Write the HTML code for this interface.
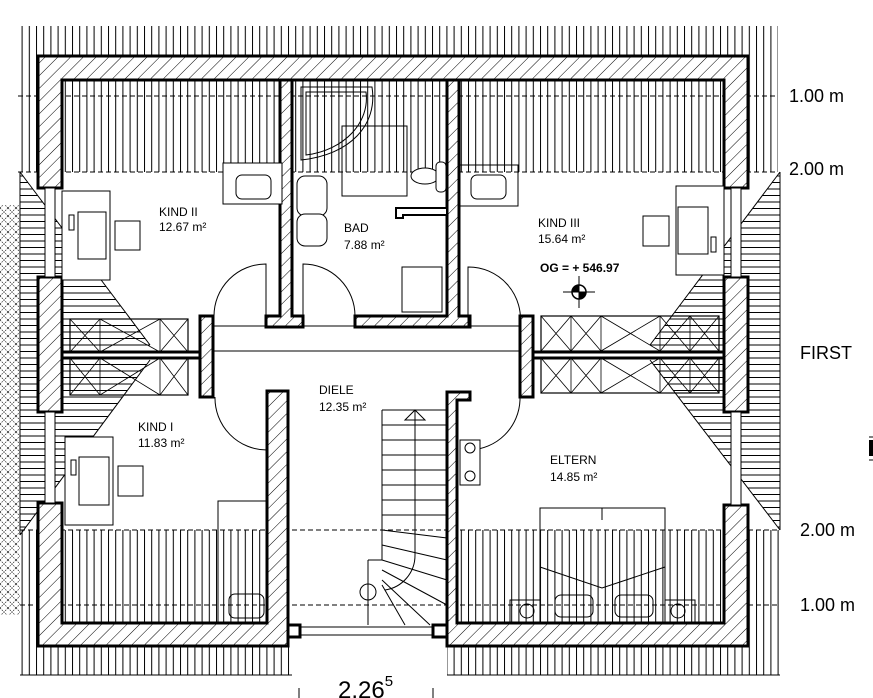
<!DOCTYPE html>
<html><head><meta charset="utf-8"><style>
html,body{margin:0;padding:0;background:#fff}
svg{display:block}
text{font-family:"Liberation Sans",sans-serif;fill:#000}
</style></head><body>
<svg width="873" height="698" viewBox="0 0 873 698" xmlns="http://www.w3.org/2000/svg">
<defs>
<pattern id="vl" width="7.2" height="10" patternUnits="userSpaceOnUse"><line x1="0.5" y1="0" x2="0.5" y2="10" stroke="#000" stroke-width="1"/></pattern>
<pattern id="hl" width="10" height="6.5" patternUnits="userSpaceOnUse"><line x1="0" y1="0.5" x2="10" y2="0.5" stroke="#000" stroke-width="1"/></pattern>
<pattern id="hatch" width="9" height="9" patternUnits="userSpaceOnUse" patternTransform="rotate(45)"><rect width="9" height="9" fill="#fff"/><line x1="0" y1="0" x2="0" y2="9" stroke="#000" stroke-width="1"/></pattern>
<pattern id="xx" width="8" height="8" patternUnits="userSpaceOnUse"><path d="M0,0 L8,8 M8,0 L0,8" stroke="#000" stroke-width="0.6" stroke-dasharray="1.5,1"/></pattern>
</defs>
<rect width="873" height="698" fill="#fff"/>

<!-- roof vertical lines -->
<rect x="18" y="26" width="760" height="146" fill="url(#vl)"/>
<rect x="20" y="530" width="272" height="145" fill="url(#vl)"/>
<rect x="447" y="530" width="333" height="145" fill="url(#vl)"/>
<line x1="20" y1="675" x2="292" y2="675" stroke="#000"/>
<line x1="447" y1="675" x2="780" y2="675" stroke="#000"/>

<!-- side horizontal lines -->
<polygon points="20,172 150,345 150,360 20,535" fill="url(#hl)"/>
<polygon points="780,172 650,345 650,360 780,530" fill="url(#hl)"/>
<line x1="20" y1="172" x2="150" y2="345" stroke="#000"/>
<line x1="20" y1="535" x2="150" y2="360" stroke="#000"/>
<line x1="780" y1="172" x2="650" y2="345" stroke="#000"/>
<line x1="780" y1="530" x2="650" y2="360" stroke="#000"/>
<line x1="20" y1="172" x2="20" y2="535" stroke="#000"/>
<line x1="780" y1="172" x2="780" y2="530" stroke="#000"/>
<rect x="0" y="205" width="20" height="410" fill="url(#xx)"/>

<!-- dashed lines -->
<g stroke="#000" stroke-dasharray="5,3" stroke-width="1">
<line x1="18" y1="96" x2="778" y2="96"/>
<line x1="18" y1="172" x2="778" y2="172"/>
<line x1="20" y1="530" x2="780" y2="530"/>
<line x1="20" y1="605" x2="780" y2="605"/>
</g>

<!-- window storage boxes -->
<g fill="none" stroke="#000" stroke-width="1.2">
<rect x="70" y="319" width="118" height="33"/><rect x="70" y="358" width="118" height="37"/>
<rect x="541" y="316" width="178" height="35"/><rect x="541" y="358" width="178" height="35"/>
</g>
<g stroke="#000" stroke-width="0.8" fill="none">
<path d="M100,319V352M160,319V352M70,319L100,352M100,319L70,352M100,319L160,352M160,319L100,352M160,319L188,352M188,319L160,352"/>
<path d="M100,358V395M160,358V395M70,358L100,395M100,358L70,395M100,358L160,395M160,358L100,395M160,358L188,395M188,358L160,395"/>
<path d="M571,316V351M601,316V351M660,316V351M690,316V351M541,316L571,351M571,316L541,351M571,316L601,351M601,316L571,351M601,316L660,351M660,316L601,351M660,316L690,351M690,316L660,351M690,316L719,351M719,316L690,351"/>
<path d="M571,358V393M601,358V393M660,358V393M690,358V393M541,358L571,393M571,358L541,393M571,358L601,393M601,358L571,393M601,358L660,393M660,358L601,393M660,358L690,393M690,358L660,393M690,358L719,393M719,358L690,393"/>
</g>
<g stroke="#000" stroke-width="3" fill="none">
<path d="M62,352H200M62,358H200M533,352H724M533,358H724"/>
</g>
<line x1="213" y1="351" x2="520" y2="351" stroke="#000"/>
<line x1="213" y1="326" x2="520" y2="326" stroke="#000"/>

<!-- walls -->
<g fill="url(#hatch)" stroke="#000" stroke-width="3">
<polygon points="38,56 748,56 748,188 724,188 724,80 62,80 62,188 38,188"/>
<rect x="38" y="277" width="24" height="135"/>
<rect x="724" y="277" width="24" height="135"/>
<polygon points="38,503 62,503 62,623 267,623 267,391 288,391 288,646 38,646"/>
<polygon points="447,392 470,392 470,400 457,400 457,623 724,623 724,505 748,505 748,646 447,646"/>
<polygon points="280,80 292,80 292,316 303,316 303,327 266,327 266,316 280,316"/>
<polygon points="447,80 459,80 459,316 470,316 470,327 355,327 355,316 447,316"/>
<polygon points="200,316 213,316 213,397 200,397"/>
<polygon points="520,316 533,316 533,397 520,397"/>
</g>
<!-- window pieces -->
<g stroke="#000" fill="#fff" stroke-width="1">
<rect x="45" y="188" width="10" height="89"/><rect x="731" y="188" width="10" height="89"/>
<rect x="45" y="412" width="10" height="91"/><rect x="731" y="412" width="10" height="93"/>
<rect x="300" y="627" width="133" height="8"/>
</g>
<rect x="288" y="625" width="12" height="12" fill="#fff" stroke="#000" stroke-width="3"/>
<rect x="433" y="625" width="14" height="12" fill="#fff" stroke="#000" stroke-width="3"/>

<!-- doors -->
<g stroke="#000" fill="none" stroke-width="1">
<path d="M266,316V264A52,52 0 0 0 214,316"/>
<path d="M303,316V264A52,52 0 0 1 355,316"/>
<path d="M468,326V267A52,52 0 0 1 520,326"/>
<path d="M267,392V450A52,52 0 0 1 215,397"/>
<path d="M520,397V400A52,52 0 0 1 470,450"/>
</g>

<!-- furniture -->
<g stroke="#000" fill="#fff" stroke-width="1">
<rect x="62" y="191" width="48" height="89"/><rect x="78" y="212" width="28" height="47"/><rect x="69" y="215" width="5" height="15"/>
<rect x="115" y="221" width="25" height="29"/>
<rect x="223" y="163" width="59" height="41"/><rect x="236" y="175" width="35" height="24" rx="6"/>
<rect x="65" y="437" width="48" height="88"/><rect x="79" y="457" width="30" height="48"/><rect x="71" y="460" width="5" height="15"/>
<rect x="118" y="466" width="25" height="30"/>
<rect x="218" y="501" width="49" height="122" fill="none"/>
<rect x="229" y="594" width="35" height="24" rx="6" fill="none"/>
<rect x="676" y="186" width="48" height="89"/><rect x="678" y="207" width="30" height="47"/><rect x="711" y="237" width="5" height="15"/>
<rect x="643" y="216" width="26" height="30"/>
<rect x="459" y="165" width="59" height="41" fill="none"/><rect x="471" y="175" width="35" height="24" rx="6"/>
<rect x="297" y="176" width="30" height="40" rx="8"/><rect x="297" y="214" width="30" height="32" rx="8"/>
<rect x="342" y="126" width="65" height="70" fill="none"/>
<path d="M301,87H372C378,125 350,155 301,160Z" fill="none"/>
<path d="M306,92H366C370,122 345,150 306,155Z" fill="none"/>
<rect x="402" y="267" width="40" height="45"/>
<path d="M396,208H447V215H403V218H396Z" fill="#fff" stroke-width="2"/>
<ellipse cx="425" cy="176" rx="14" ry="8"/><rect x="436" y="162" width="10" height="30" rx="4"/>
<rect x="460" y="440" width="20" height="45"/>
<circle cx="470" cy="448" r="5"/><circle cx="470" cy="476" r="5"/>
<rect x="540" y="508" width="125" height="115" fill="none"/>
<path d="M540,567L602,588L665,567M602,508V520" fill="none"/>
<rect x="555" y="595" width="38" height="22" rx="6" fill="none"/><rect x="615" y="595" width="38" height="22" rx="6" fill="none"/>
<rect x="510" y="600" width="30" height="23" fill="none"/><rect x="665" y="600" width="30" height="23" fill="none"/>
<circle cx="527" cy="611" r="7" fill="none"/><circle cx="678" cy="611" r="7" fill="none"/>
</g>
<!-- stairs -->
<g stroke="#000" fill="none" stroke-width="1">
<path d="M382,410H447M382,410V560M415,410V555"/>
<path d="M382,425H447M382,440H447M382,455H447M382,470H447M382,485H447M382,500H447M382,515H447"/>
<path d="M382,530L447,538M382,545L447,560M382,560L447,580M382,570L447,605M382,580L430,625M382,585L405,625"/>
<path d="M415,555A35,35 0 0 1 385,590"/>
<path d="M368,560V625M368,560H382"/>
<circle cx="368" cy="592" r="8"/>
<path d="M405,420L415,410L425,420Z"/>
</g>

<!-- level marker -->
<g stroke="#000" stroke-width="1">
<line x1="563" y1="292" x2="595" y2="292"/><line x1="579" y1="276" x2="579" y2="308"/>
<circle cx="579" cy="292" r="7" fill="#fff" stroke-width="1.5"/>
<path d="M579,285A7,7 0 0 0 572,292H579Z M579,299A7,7 0 0 0 586,292H579Z" fill="#000"/>
</g>

<!-- labels -->
<g font-size="12">
<text x="159" y="216">KIND II</text><text x="159" y="231">12.67 m²</text>
<text x="344" y="232">BAD</text><text x="344" y="249">7.88  m²</text>
<text x="538" y="227">KIND III</text><text x="538" y="243">15.64 m²</text>
<text x="540" y="272" font-weight="bold">OG = + 546.97</text>
<text x="319" y="394">DIELE</text><text x="319" y="411">12.35 m²</text>
<text x="138" y="431">KIND I</text><text x="138" y="447">11.83 m²</text>
<text x="550" y="464">ELTERN</text><text x="550" y="481">14.85  m²</text>
</g>
<g font-size="18">
<text x="789" y="102">1.00 m</text>
<text x="789" y="175">2.00 m</text>
<text x="800" y="359">FIRST</text>
<text x="800" y="536">2.00 m</text>
<text x="800" y="611">1.00 m</text>
</g>
<rect x="869" y="440" width="4" height="16" fill="#000"/>
<line x1="869" y1="437" x2="873" y2="437" stroke="#000"/><line x1="869" y1="460" x2="873" y2="460" stroke="#000"/>
<text x="338" y="698" font-size="24">2.26<tspan font-size="15" dy="-12">5</tspan></text>
<line x1="299" y1="688" x2="299" y2="698" stroke="#000"/><line x1="433" y1="688" x2="433" y2="698" stroke="#000"/>
</svg>
</body></html>
